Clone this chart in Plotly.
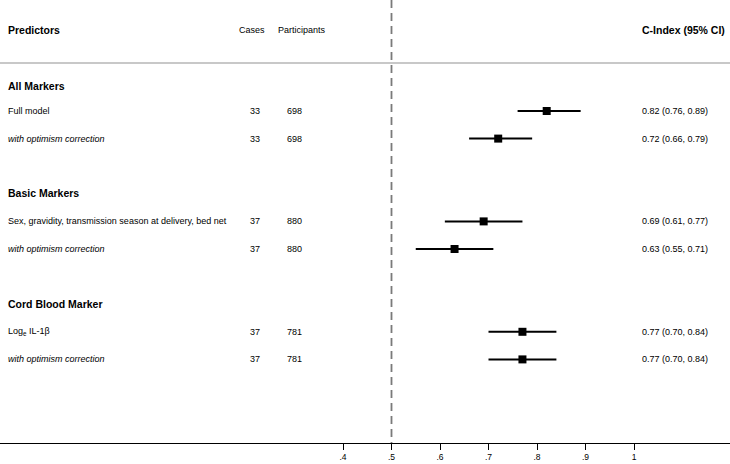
import plotly.graph_objects as go

# ---- data ----
sections = ["All Markers", "Basic Markers", "Cord Blood Marker"]
labels = [
    "Full model", "<i>with optimism correction</i>",
    "Sex, gravidity, transmission season at delivery, bed net", "<i>with optimism correction</i>",
    "Log<sub>e</sub> IL-1β", "<i>with optimism correction</i>",
]
section_of = [0, 0, 1, 1, 2, 2]
cases = [33, 33, 37, 37, 37, 37]
participants = [698, 698, 880, 880, 781, 781]
est = [0.82, 0.72, 0.69, 0.63, 0.77, 0.77]
lo = [0.76, 0.66, 0.61, 0.55, 0.70, 0.70]
hi = [0.89, 0.79, 0.77, 0.71, 0.84, 0.84]
tick_vals = [0.4, 0.5, 0.6, 0.7, 0.8, 0.9, 1.0]
tick_text = [".4", ".5", ".6", ".7", ".8", ".9", "1"]
null_line = 0.5

W, H = 730, 464
AX_Y = 443
FONT = "Liberation Sans, Arial, Helvetica, sans-serif"

# layout of rows (pixel-based y axis)
ROW0, STEP = 111, 27.6
row_y = [ROW0 + STEP * (i + 2 * s) for i, s in enumerate(section_of)]
sec_y = [row_y[2 * k] - (25 if k == 0 else 28) for k in range(3)]

# x mapping: .4 -> 343px, 1 -> 634px
px_per = (634 - 343) / 0.6
x0 = 0.4 - 343 / px_per
x1 = 1.0 + (W - 634) / px_per

fig = go.Figure()

# CI lines
for y, a, b in zip(row_y, lo, hi):
    fig.add_trace(go.Scatter(x=[a, b], y=[y, y], mode="lines",
                             line=dict(color="black", width=2), hoverinfo="skip", showlegend=False))
fig.add_trace(go.Scatter(x=est, y=row_y, mode="markers",
                         marker=dict(symbol="square", size=8, color="black"),
                         showlegend=False))

shapes = [
    dict(type="line", xref="paper", yref="y", x0=0, x1=1, y0=63, y1=63,
         line=dict(color="#c8c8c8", width=2)),
    dict(type="line", xref="x", yref="y", x0=null_line, x1=null_line, y0=0, y1=AX_Y,
         line=dict(color="#7a7a7a", width=1.8, dash="8px,5px")),
]

ann = []
def txt(x, y, s, size=9, anchor="left"):
    ann.append(dict(x=x / W, y=y, xref="paper", yref="y", text=s, showarrow=False,
                    xanchor=anchor, yanchor="middle", xshift=-2,
                    font=dict(family=FONT, size=size, color="black")))

txt(8, 30, "<b>Predictors</b>", size=10.5)
txt(239, 30, "Cases")
txt(278, 30, "Participants")
txt(642, 30, "<b>C-Index (95% CI)</b>", size=10.5)
for s, y in zip(sections, sec_y):
    txt(8, y, f"<b>{s}</b>", size=10.5)
for i, y in enumerate(row_y):
    txt(8, y, labels[i])
    txt(250, y, str(cases[i]))
    txt(287, y, str(participants[i]))
    txt(642, y, f"{est[i]:.2f} ({lo[i]:.2f}, {hi[i]:.2f})")

fig.update_layout(
    width=W, height=H, margin=dict(l=0, r=0, t=0, b=H - AX_Y),
    paper_bgcolor="white", plot_bgcolor="white",
    shapes=shapes, annotations=ann, showlegend=False,
    xaxis=dict(range=[x0, x1], tickvals=tick_vals, ticktext=tick_text,
               showgrid=False, zeroline=False, showline=True, linecolor="black", linewidth=1,
               ticks="outside", ticklen=6, tickcolor="black",
               tickfont=dict(family=FONT, size=8.5, color="black")),
    yaxis=dict(range=[AX_Y, 0], visible=False, showgrid=False, zeroline=False),
)

fig.write_html("out.html", config={"displayModeBar": False},
               post_script="document.body.style.margin='0';document.body.style.overflow='hidden';")
